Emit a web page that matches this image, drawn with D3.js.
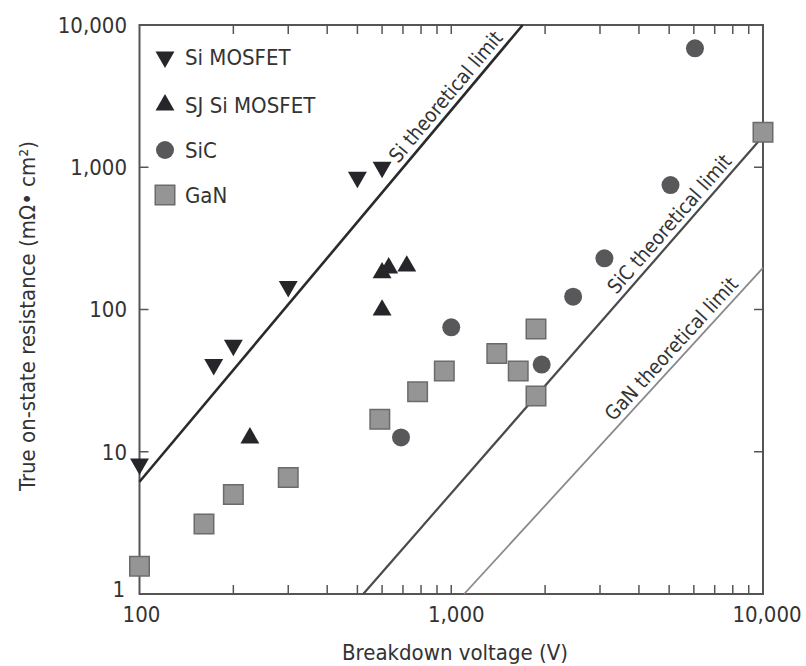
<!DOCTYPE html>
<html>
<head>
<meta charset="utf-8">
<script src="https://cdn.jsdelivr.net/npm/d3@7"></script>
<style>
  html, body { margin: 0; padding: 0; background: #fff; }
  svg text { font-family: "DejaVu Sans Condensed", "DejaVu Sans", sans-serif; font-stretch: condensed; fill: #333; }
</style>
</head>
<body>
<div id="chart"></div>
<script>
// ---- data ----
const siMosfetV = [100, 173, 200, 300, 500, 600];
const siMosfetR = [8.2, 41, 56, 145, 850, 1000];
const sjMosfetV = [226, 600, 630, 720, 600];
const sjMosfetR = [12.5, 181, 196, 202, 99];
const sicV = [690, 1000, 1950, 2460, 3100, 5050, 6050];
const sicR = [12.6, 75, 41, 123, 229, 750, 6860];
const ganV = [100, 161, 200, 300, 590, 780, 950, 1400, 1640, 1870, 1870, 10000];
const ganR = [1.57, 3.1, 5.0, 6.6, 16.9, 26.4, 37, 49, 37, 73, 24.7, 1760];

const siLimitV = [100, 1695];
const siLimitR = [6.15, 10000];
const sicLimitV = [522, 10000];
const sicLimitR = [1, 1650];
const ganLimitV = [1100, 10000];
const ganLimitR = [1, 196];

const xTickValues = [100, 1000, 10000];
const xTickLabels = ["100", "1,000", "10,000"];
const yTickValues = [1, 10, 100, 1000, 10000];
const yTickLabels = ["1", "10", "100", "1,000", "10,000"];
const xMinorTicks = [200, 300, 400, 500, 600, 700, 800, 900, 1000, 2000, 3000, 4000, 5000, 6000, 7000, 8000, 9000];
const yInnerTicks = [10, 100, 1000];

const legendLabels = ["Si MOSFET", "SJ Si MOSFET", "SiC", "GaN"];
const lineLabels = ["Si theoretical limit", "SiC theoretical limit", "GaN theoretical limit"];

(function () {
// ---- layout ----
const W = 806, H = 666;
const pL = 139.5, pR = 763, pT = 25, pB = 594;

const svg = d3.select("#chart").append("svg").attr("width", W).attr("height", H);

const x = d3.scaleLog().domain([100, 10000]).range([pL, pR]);
const y = d3.scaleLog().domain([1, 10000]).range([pB, pT]);

const axisColor = "#555";

// frame
svg.append("rect").attr("x", pL).attr("y", pT).attr("width", pR - pL).attr("height", pB - pT)
  .attr("fill", "none").attr("stroke", axisColor).attr("stroke-width", 2);

// inward ticks
const tickLen = 9;
const gT = svg.append("g");
xMinorTicks.forEach(v => {
  gT.append("line").attr("x1", x(v)).attr("x2", x(v)).attr("y1", pB).attr("y2", pB - tickLen)
    .attr("stroke", axisColor).attr("stroke-width", 1.5);
  gT.append("line").attr("x1", x(v)).attr("x2", x(v)).attr("y1", pT).attr("y2", pT + tickLen)
    .attr("stroke", axisColor).attr("stroke-width", 1.5);
});
yInnerTicks.forEach(v => {
  gT.append("line").attr("x1", pL).attr("x2", pL + tickLen).attr("y1", y(v)).attr("y2", y(v))
    .attr("stroke", axisColor).attr("stroke-width", 1.5);
  gT.append("line").attr("x1", pR).attr("x2", pR - tickLen).attr("y1", y(v)).attr("y2", y(v))
    .attr("stroke", axisColor).attr("stroke-width", 1.5);
});

// tick labels
const fs = 22;
yTickValues.forEach((v, i) => {
  svg.append("text").attr("x", v === 1 ? 125 : 127).attr("y", v === 1 ? y(v) - 5 : y(v))
    .attr("dy", "0.36em").attr("text-anchor", "end").attr("font-size", fs).text(yTickLabels[i]);
});
xTickValues.forEach((v, i) => {
  svg.append("text").attr("x", x(v) + (i === 0 ? 2 : i === 1 ? 5 : 4)).attr("y", 622)
    .attr("text-anchor", "middle").attr("font-size", fs).text(xTickLabels[i]);
});

// axis titles
svg.append("text").attr("x", 455).attr("y", 660).attr("text-anchor", "middle").attr("font-size", fs)
  .text("Breakdown voltage (V)");
svg.append("text").attr("transform", "translate(35,316) rotate(-90)").attr("text-anchor", "middle")
  .attr("font-size", fs).text("True on-state resistance (mΩ• cm²)");

// limit lines
const lineGen = d3.line().x(d => x(d[0])).y(d => y(d[1]));
const limits = [
  {v: siLimitV, r: siLimitR, color: "#2a2a2a", w: 2.6, labelAt: 0.825, label: lineLabels[0]},
  {v: sicLimitV, r: sicLimitR, color: "#4a4a4a", w: 2.2, labelAt: 0.79, label: lineLabels[1]},
  {v: ganLimitV, r: ganLimitR, color: "#8a8a8a", w: 1.8, labelAt: 0.725, label: lineLabels[2]}
];
limits.forEach(L => {
  const pts = L.v.map((v, i) => [v, L.r[i]]);
  svg.append("path").attr("d", lineGen(pts)).attr("fill", "none").attr("stroke", L.color).attr("stroke-width", L.w);
  const x0 = x(pts[0][0]), y0 = y(pts[0][1]), x1 = x(pts[1][0]), y1 = y(pts[1][1]);
  const ang = Math.atan2(y1 - y0, x1 - x0) * 180 / Math.PI;
  const px = x0 + (x1 - x0) * L.labelAt, py = y0 + (y1 - y0) * L.labelAt;
  svg.append("text").attr("transform", `translate(${px},${py}) rotate(${ang})`)
    .attr("text-anchor", "middle").attr("dy", -6).attr("font-size", 20).text(L.label);
});

// markers
const triSize = 155, circSize = 254, sqSize = 380;
const triDown = d3.symbol().type(d3.symbolTriangle).size(triSize);
const triUp = d3.symbol().type(d3.symbolTriangle).size(triSize);
const circ = d3.symbol().type(d3.symbolCircle).size(circSize);
const sq = d3.symbol().type(d3.symbolSquare).size(sqSize);

const series = [
  {v: ganV, r: ganR, sym: sq, rot: 0, fill: "#959595", stroke: "#6b6b6b"},
  {v: sicV, r: sicR, sym: circ, rot: 0, fill: "#58585a", stroke: "none"},
  {v: sjMosfetV, r: sjMosfetR, sym: triUp, rot: 0, fill: "#26262a", stroke: "none"},
  {v: siMosfetV, r: siMosfetR, sym: triDown, rot: 180, fill: "#26262a", stroke: "none"}
];
series.forEach(s => {
  svg.append("g").selectAll("path").data(s.v.map((v, i) => [v, s.r[i]])).join("path")
    .attr("d", s.sym())
    .attr("transform", d => `translate(${x(d[0])},${y(d[1])}) rotate(${s.rot})`)
    .attr("fill", s.fill).attr("stroke", s.stroke).attr("stroke-width", 1.5);
});

// legend
const legendSeries = [series[3], series[2], series[1], series[0]];
const legendY = [57, 105, 150, 195];
legendSeries.forEach((s, i) => {
  svg.append("path").attr("d", s.sym()).attr("transform", `translate(165,${legendY[i]}) rotate(${s.rot})`)
    .attr("fill", s.fill).attr("stroke", s.stroke).attr("stroke-width", 1.5);
  svg.append("text").attr("x", 185).attr("y", legendY[i]).attr("dy", "0.36em").attr("font-size", fs)
    .text(legendLabels[i]);
});
})();
</script>
</body>
</html>
